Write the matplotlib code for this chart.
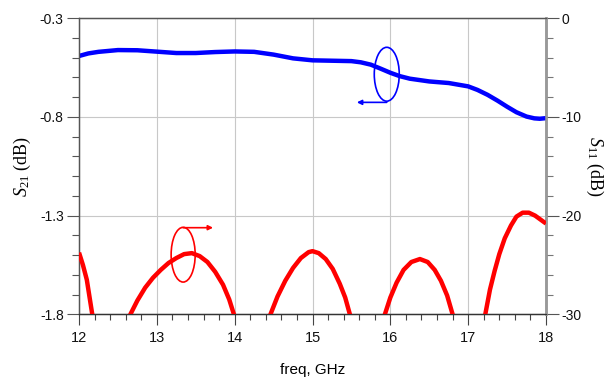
import matplotlib
matplotlib.use("Agg")
import matplotlib.pyplot as plt
from matplotlib.patches import Ellipse
from matplotlib.ticker import MultipleLocator

plt.rcParams['mathtext.fontset'] = 'custom'
plt.rcParams['mathtext.rm'] = 'Liberation Serif'
plt.rcParams['mathtext.it'] = 'Liberation Serif:italic'

# S21 (left axis)
freq_s21 = [12.0, 12.12, 12.25, 12.5, 12.75, 13.0, 13.25, 13.5, 13.75, 14.0, 14.25, 14.5,
            14.75, 15.0, 15.25, 15.5, 15.62, 15.75, 15.88, 16.0, 16.12, 16.25, 16.5,
            16.75, 17.0, 17.12, 17.25, 17.38, 17.5, 17.62, 17.75, 17.85, 17.92, 18.0]
s21_db = [-0.491, -0.478, -0.470, -0.461, -0.462, -0.469, -0.476, -0.476, -0.471,
          -0.468, -0.470, -0.484, -0.503, -0.513, -0.515, -0.517, -0.523, -0.535,
          -0.556, -0.576, -0.593, -0.606, -0.620, -0.628, -0.645, -0.663, -0.688,
          -0.718, -0.748, -0.776, -0.798, -0.807, -0.809, -0.806]

# S11 (right axis)
freq_s11 = [12.0, 12.05, 12.1, 12.17, 12.4, 12.66, 12.75, 12.85, 12.95, 13.05, 13.15,
            13.25, 13.35, 13.45, 13.55, 13.65, 13.75, 13.85, 13.93, 13.99, 14.2, 14.46,
            14.55, 14.65, 14.75, 14.85, 14.95, 15.0, 15.08, 15.17, 15.26, 15.35, 15.42,
            15.48, 15.7, 15.93, 16.0, 16.08, 16.17, 16.27, 16.38, 16.48, 16.57, 16.65,
            16.73, 16.8, 17.0, 17.22, 17.28, 17.34, 17.4, 17.47, 17.55, 17.62, 17.7,
            17.78, 17.86, 17.93, 18.0]
s11_db = [-23.75, -25.0, -26.5, -30.0, -40.0, -30.0, -28.6, -27.3, -26.3, -25.5, -24.8,
          -24.3, -23.9, -23.8, -24.1, -24.7, -25.7, -27.0, -28.5, -30.0, -40.0, -30.0,
          -28.2, -26.6, -25.3, -24.3, -23.7, -23.6, -23.8, -24.4, -25.4, -26.9, -28.3,
          -30.0, -40.0, -30.0, -28.3, -26.8, -25.5, -24.7, -24.4, -24.7, -25.5, -26.6,
          -28.1, -30.0, -40.0, -30.0, -27.5, -25.6, -23.9, -22.3, -21.0, -20.1, -19.7,
          -19.7, -20.0, -20.4, -20.8]

x_ticks = [12, 13, 14, 15, 16, 17, 18]
left_ticks = [-0.3, -0.8, -1.3, -1.8]
right_ticks = [0, -10, -20, -30]

fig = plt.figure(figsize=(6.15, 3.78), dpi=100)
ax = fig.add_axes([0.1285, 0.1685, 0.7593, 0.7831])
ax2 = ax.twinx()

ax.set_xlim(12, 18)
ax.set_ylim(-1.8, -0.3)
ax2.set_ylim(-30, 0)

ax.set_xticks(x_ticks)
ax.set_xticklabels([str(t) for t in x_ticks])
ax.xaxis.set_minor_locator(MultipleLocator(0.2))
ax.set_yticks(left_ticks)
ax.set_yticklabels(["%.1f" % t for t in left_ticks])
ax.yaxis.set_minor_locator(MultipleLocator(0.1))
ax2.set_yticks(right_ticks)
ax2.set_yticklabels([str(t) for t in right_ticks])
ax2.yaxis.set_minor_locator(MultipleLocator(2))

ax.grid(True, which='major', color='#c8c8c8', lw=0.8)
ax.set_axisbelow(True)

ax.tick_params(axis='y', which='major', direction='out', length=9, width=0.8,
               color='#555555', labelsize=10, labelcolor='#111111', pad=2)
ax.tick_params(axis='y', which='minor', direction='out', length=5, width=0.8,
               color='#555555')
ax.tick_params(axis='x', which='major', direction='out', length=8, width=0.8,
               color='#444444', labelsize=10.5, labelcolor='#111111', pad=4)
ax.tick_params(axis='x', which='minor', direction='out', length=4, width=0.8,
               color='#444444')
ax2.tick_params(axis='y', which='major', direction='out', length=9, width=0.8,
                color='#555555', labelsize=10, labelcolor='#111111', pad=2)
ax2.tick_params(axis='y', which='minor', direction='out', length=5, width=0.8,
                color='#777777')

for lbl in ax.get_xticklabels() + ax.get_yticklabels() + ax2.get_yticklabels():
    lbl.set_fontfamily('Liberation Sans')

for a in (ax, ax2):
    a.spines['top'].set_color('#555555')
    a.spines['top'].set_linewidth(0.9)
    a.spines['left'].set_color('#555555')
    a.spines['left'].set_linewidth(0.9)
    a.spines['bottom'].set_color('#333333')
    a.spines['bottom'].set_linewidth(0.9)
    a.spines['right'].set_color('#999999')
    a.spines['right'].set_linewidth(1.8)

ax.plot(freq_s21, s21_db, color='#0000ff', lw=3.2, solid_capstyle='butt',
        solid_joinstyle='round', zorder=3)
ax2.plot(freq_s11, s11_db, color='#ff0000', lw=3.2, solid_capstyle='butt',
         solid_joinstyle='round', zorder=3)

ax.set_xlabel('freq, GHz', fontsize=11, family='Liberation Sans', labelpad=13)
ax.set_ylabel(r'$S_{21}$ (dB)', fontsize=13, family='Liberation Serif', labelpad=5)
ax2.set_ylabel(r'$S_{11}$ (dB)', fontsize=13, family='Liberation Serif',
               rotation=270, labelpad=17)

# Annotations (blue ellipse with left arrow, red ellipse with right arrow)
ax.add_patch(Ellipse((0.659, 0.811), 0.0535, 0.182, transform=ax.transAxes,
                     fill=False, ec='#0000ff', lw=1.2, zorder=4))
ax.annotate('', xy=(0.595, 0.716), xytext=(0.659, 0.716), xycoords='axes fraction',
            textcoords='axes fraction',
            arrowprops=dict(arrowstyle='-|>', color='#0000ff', lw=1.2,
                            mutation_scale=7, shrinkA=0, shrinkB=0))
ax.add_patch(Ellipse((0.223, 0.2014), 0.0515, 0.185, transform=ax.transAxes,
                     fill=False, ec='#ff0000', lw=1.2, zorder=4))
ax.annotate('', xy=(0.287, 0.2926), xytext=(0.223, 0.2926), xycoords='axes fraction',
            textcoords='axes fraction',
            arrowprops=dict(arrowstyle='-|>', color='#ff0000', lw=1.2,
                            mutation_scale=7, shrinkA=0, shrinkB=0))

fig.savefig('out.png', dpi=100)
